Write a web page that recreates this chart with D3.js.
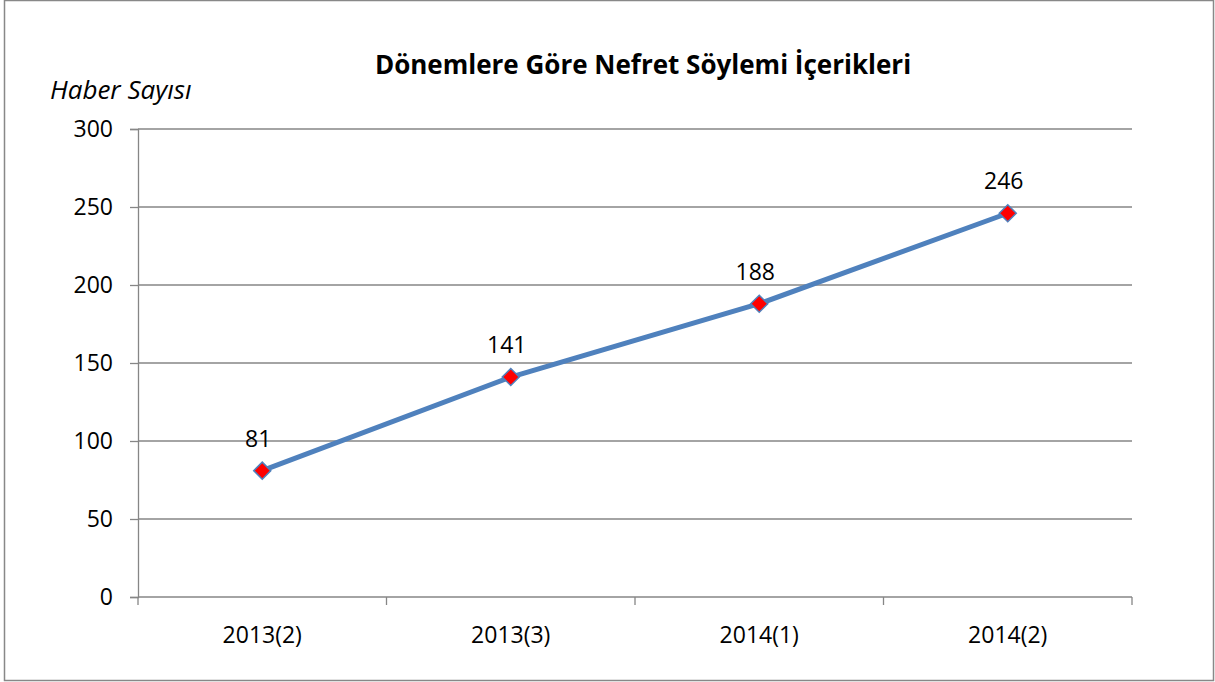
<!DOCTYPE html>
<html>
<head>
<meta charset="utf-8">
<script src="https://cdn.jsdelivr.net/npm/d3@7"></script>
<style>
  body { margin: 0; background: #fff; }
  text { font-family: "Open Sans", "Noto Sans", sans-serif; fill: #000; }
</style>
</head>
<body>
<div id="chart"></div>
<script>
// data
var periods = ["2013(2)", "2013(3)", "2014(1)", "2014(2)"];
var counts = [81, 141, 188, 246];
var yTicks = [0, 50, 100, 150, 200, 250, 300];

var W = 1215, H = 682;
var margin = {top: 129, right: 83, bottom: 85, left: 138};
var width = W - margin.left - margin.right,
    height = H - margin.top - margin.bottom;

var svg = d3.select("#chart").append("svg")
    .attr("width", W)
    .attr("height", H);

// outer frame
svg.append("rect")
    .attr("x", 4.5).attr("y", 0.5)
    .attr("width", 1209).attr("height", 680)
    .attr("fill", "#fff")
    .attr("stroke", "#888").attr("stroke-width", 1.5);

svg.append("text")
    .attr("x", 643).attr("y", 74)
    .attr("text-anchor", "middle")
    .style("font-size", "26px").style("font-weight", "bold")
    .text("Dönemlere Göre Nefret Söylemi İçerikleri");

svg.append("text")
    .attr("x", 50).attr("y", 99)
    .style("font-size", "26px").style("font-style", "italic")
    .text("Haber Sayısı");

var g = svg.append("g")
    .attr("transform", "translate(" + margin.left + "," + margin.top + ")");

var x = d3.scaleBand().domain(periods).range([0, width]);
var y = d3.scaleLinear().domain([0, 300]).range([height, 0]);

// gridlines
g.selectAll(".grid")
  .data(yTicks.filter(function(d) { return d > 0; }))
  .enter().append("line")
    .attr("x1", 0).attr("x2", width)
    .attr("y1", function(d) { return y(d); })
    .attr("y2", function(d) { return y(d); })
    .attr("stroke", "#868686").attr("stroke-width", 1.3);

// y axis
var yAxis = g.append("g")
    .call(d3.axisLeft(y).tickValues(yTicks).tickSize(8).tickPadding(17));
yAxis.select(".domain").attr("stroke", "#868686").attr("stroke-width", 1.3);
yAxis.selectAll(".tick line").attr("stroke", "#868686").attr("stroke-width", 1.3);
yAxis.selectAll("text").style("font-size", "23px").attr("fill", "#000");

// x axis, ticks at band edges
var xAxis = g.append("g")
    .attr("transform", "translate(0," + height + ")");
xAxis.append("line")
    .attr("x1", 0).attr("x2", width)
    .attr("stroke", "#868686").attr("stroke-width", 1.3);
var edges = periods.map(function(p) { return x(p); }).concat([width]);
xAxis.selectAll(".xt")
  .data(edges)
  .enter().append("line")
    .attr("x1", function(d) { return d; }).attr("x2", function(d) { return d; })
    .attr("y1", 0).attr("y2", 8)
    .attr("stroke", "#868686").attr("stroke-width", 1.3);
xAxis.selectAll(".xl")
  .data(periods)
  .enter().append("text")
    .attr("x", function(d) { return x(d) + x.bandwidth() / 2; })
    .attr("y", 46)
    .attr("text-anchor", "middle")
    .style("font-size", "23px")
    .text(function(d) { return d; });

var pts = periods.map(function(p, i) { return {p: p, v: counts[i]}; });
var cx = function(d) { return x(d.p) + x.bandwidth() / 2; };

var line = d3.line()
    .x(cx)
    .y(function(d) { return y(d.v); });

g.append("path")
    .datum(pts)
    .attr("d", line)
    .attr("fill", "none")
    .attr("stroke", "#4f81bd")
    .attr("stroke-width", 5);

g.selectAll(".mk")
  .data(pts)
  .enter().append("path")
    .attr("d", d3.symbol().type(d3.symbolDiamond2).size(185))
    .attr("transform", function(d) { return "translate(" + cx(d) + "," + y(d.v) + ")"; })
    .attr("fill", "#ff0000")
    .attr("stroke", "#4f81bd")
    .attr("stroke-width", 1.5);

g.selectAll(".lbl")
  .data(pts)
  .enter().append("text")
    .attr("x", function(d) { return cx(d) - 4; })
    .attr("y", function(d) { return y(d.v) - 24; })
    .attr("text-anchor", "middle")
    .style("font-size", "23px")
    .text(function(d) { return d.v; });
</script>
</body>
</html>
